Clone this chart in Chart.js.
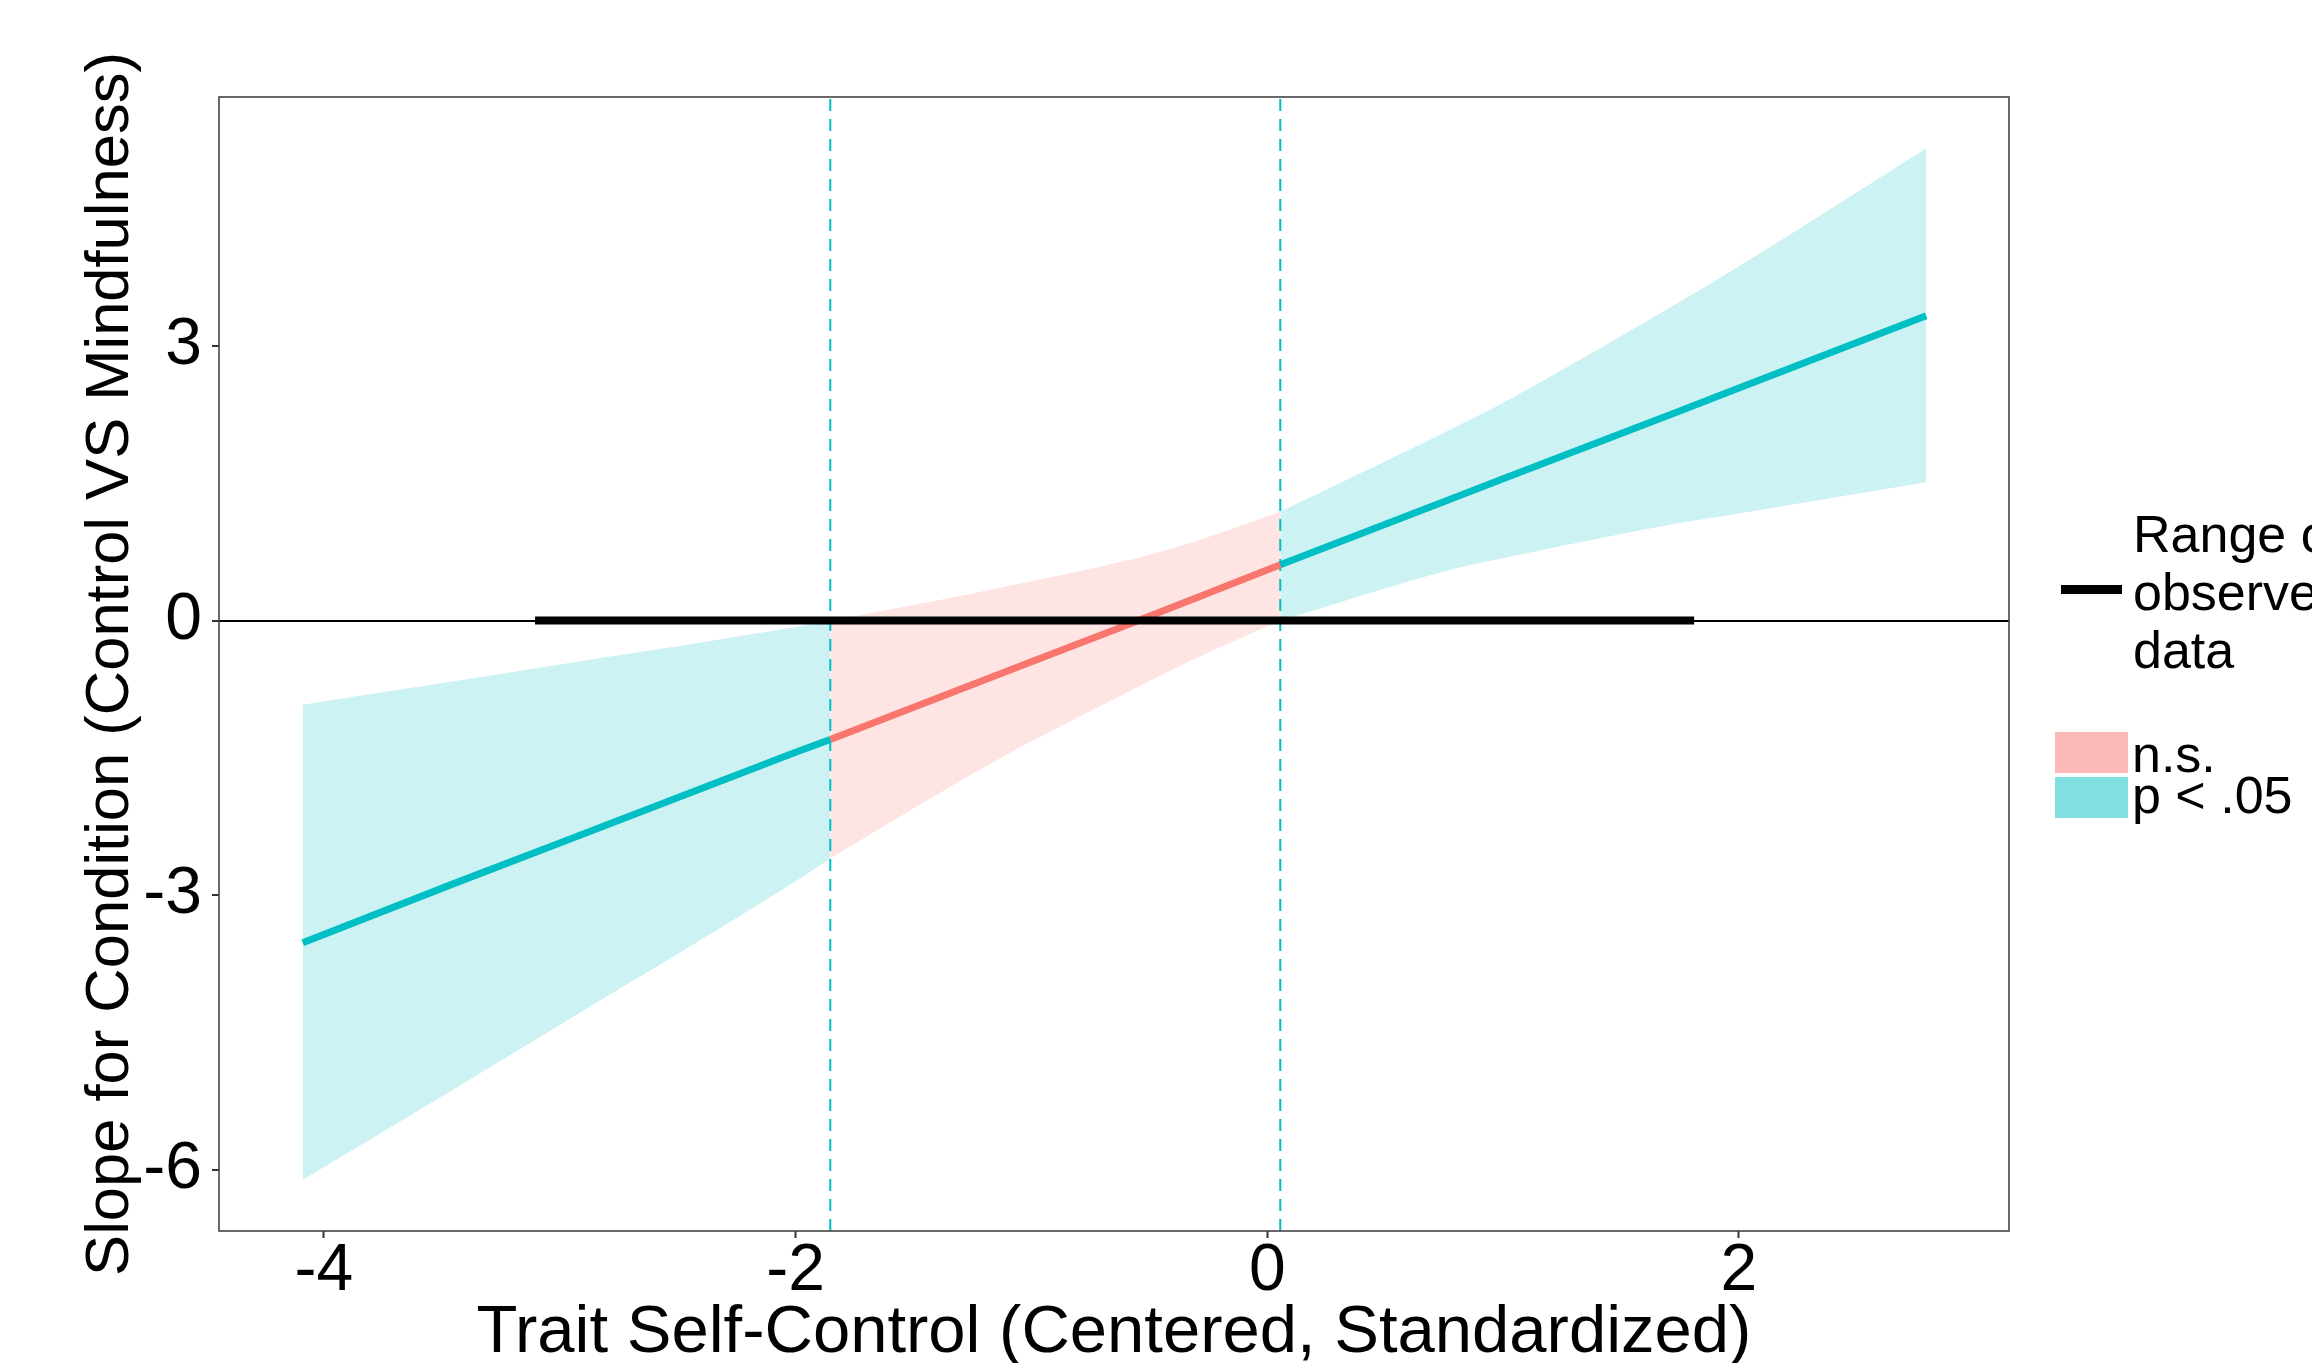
<!DOCTYPE html>
<html><head><meta charset="utf-8">
<script src="https://cdn.jsdelivr.net/npm/chart.js@4/dist/chart.umd.min.js"></script>
<style>
html,body{margin:0;padding:0;background:#fff;overflow:hidden;width:2312px;height:1363px;}
#wrap{position:relative;width:2312px;height:1363px;overflow:hidden;}
canvas{position:absolute;left:0;top:0;}
.lg{position:absolute;font-family:"Liberation Sans",Arial,sans-serif;color:#000;font-size:52px;white-space:nowrap;}
</style></head><body>
<div id="wrap"><canvas id="c" width="2312" height="1363"></canvas>
<div class="lg" style="left:2061px;top:585px;width:61px;height:9px;background:#000"></div>
<div class="lg" style="left:2133px;top:505px;line-height:58px;">Range of<br>observed<br>data</div>
<div class="lg" style="left:2055px;top:732px;width:73px;height:41px;background:#FBBAB6"></div>
<div class="lg" style="left:2055px;top:777px;width:73px;height:41px;background:#80DFE1"></div>
<div class="lg" style="left:2132px;top:728px;line-height:52px;">n.s.</div>
<div class="lg" style="left:2132px;top:769px;line-height:52px;">p &lt; .05</div>
</div>
<script>
const xTickValues = [-4, -2, 0, 2];
const yTickValues = [-6, -3, 0, 3];
const xLimits = [-4.445, 3.145];
const yLimits = [-6.67, 5.72];

// significant region, left of lower Johnson-Neyman bound
const leftX     = [-4.09, -3.455, -3.0, -2.0, -1.853];
const leftUpper = [-0.92, -0.667, -0.48, -0.07, 0.0];
const leftLower = [-6.11, -5.13, -4.42, -2.85, -2.60];
const leftSlope = [-3.52, -2.88, -2.43, -1.44, -1.30];

// non-significant region
const midX     = [-1.853, -1.34, -1.0, -0.636, -0.3, 0.055];
const midUpper = [0.0, 0.25, 0.43, 0.63, 0.87, 1.19];
const midLower = [-2.60, -1.81, -1.32, -0.84, -0.41, 0.0];
const midSlope = [-1.30, -0.79, -0.45, -0.09, 0.25, 0.61];

// significant region, right of upper Johnson-Neyman bound
const rightX     = [0.055, 0.77, 1.0, 1.76, 2.0, 2.794];
const rightUpper = [1.19, 2.08, 2.38, 3.50, 3.87, 5.16];
const rightLower = [0.0, 0.55, 0.68, 1.07, 1.17, 1.51];
const rightSlope = [0.61, 1.32, 1.55, 2.30, 2.54, 3.33];

const observedRange = [-3.105, 1.81];
const jnBounds = [-1.853, 0.055];

const CYAN = '#00BFC4', PINK = '#F8766D';
const CYAN_FILL = 'rgba(0,191,196,0.2)', PINK_FILL = 'rgba(248,118,109,0.2)';
const FONT = '"Liberation Sans", Arial, sans-serif';

const pts = (xs, ys) => xs.map((x, i) => ({x: x, y: ys[i]}));
const base = {pointRadius: 0, pointHoverRadius: 0, tension: 0};

function ribbon(xs, lo, up, color) {
  return [
    Object.assign({}, base, {data: pts(xs, lo), borderWidth: 0, borderColor: 'rgba(0,0,0,0)', fill: false, order: 20, cubicInterpolationMode: 'monotone'}),
    Object.assign({}, base, {data: pts(xs, up), borderWidth: 0, borderColor: 'rgba(0,0,0,0)', backgroundColor: color, fill: '-1', order: 20, cubicInterpolationMode: 'monotone'})
  ];
}
function line(xs, ys, color, width, order, extra) {
  return Object.assign({}, base, {data: pts(xs, ys), borderColor: color, borderWidth: width, fill: false, order: order, borderCapStyle: 'butt'}, extra || {});
}

const datasets = [].concat(
  ribbon(leftX, leftLower, leftUpper, CYAN_FILL),
  ribbon(midX, midLower, midUpper, PINK_FILL),
  ribbon(rightX, rightLower, rightUpper, CYAN_FILL),
  jnBounds.map(b => line([b, b], yLimits, CYAN, 2, 10, {borderDash: [12, 8]})),
  [line(leftX, leftSlope, CYAN, 7, 5),
   line(midX, midSlope, PINK, 7, 5),
   line(rightX, rightSlope, CYAN, 7, 5),
   line(observedRange, [0, 0], '#000', 8, 1)]
);

const frame = {
  id: 'frame',
  afterDatasetsDraw(chart) {
    const a = chart.chartArea, ctx = chart.ctx;
    ctx.save();
    ctx.strokeStyle = '#444';
    ctx.lineWidth = 1.6;
    ctx.strokeRect(a.left, a.top, a.right - a.left, a.bottom - a.top);
    ctx.restore();
  }
};

new Chart(document.getElementById('c'), {
  type: 'line',
  data: {datasets: datasets},
  plugins: [frame],
  options: {
    responsive: false,
    animation: false,
    devicePixelRatio: 1,
    layout: {padding: {left: 0, top: 97, right: 303, bottom: 0}},
    plugins: {legend: {display: false}, tooltip: {enabled: false}},
    scales: {
      x: {
        type: 'linear', min: xLimits[0], max: xLimits[1],
        afterBuildTicks: s => { s.ticks = xTickValues.map(v => ({value: v})); },
        afterFit: s => { s.height = 132; },
        grid: {color: 'rgba(0,0,0,0)', tickColor: '#333', tickLength: 7, tickWidth: 2},
        border: {display: false},
        ticks: {color: '#000', padding: 1, maxRotation: 0, font: {family: FONT, size: 66, lineHeight: 1},
                callback: v => String(v)},
        title: {display: true, text: 'Trait Self-Control (Centered, Standardized)', color: '#000',
                font: {family: FONT, size: 67, lineHeight: 0.88}, padding: {top: 0, bottom: 0}}
      },
      y: {
        type: 'linear', min: yLimits[0], max: yLimits[1],
        afterBuildTicks: s => { s.ticks = yTickValues.map(v => ({value: v})); },
        afterFit: s => { s.width = 219; },
        grid: {color: c => (c.tick && c.tick.value === 0) ? '#000' : 'rgba(0,0,0,0)', lineWidth: 2,
               tickColor: '#333', tickLength: 7, tickWidth: 2},
        border: {display: false},
        ticks: {color: '#000', padding: 10, font: {family: FONT, size: 66}, callback: v => String(v)},
        title: {display: true, text: 'Slope for Condition (Control VS Mindfulness)', color: '#000',
                font: {family: FONT, size: 61.5, lineHeight: 0.88}, padding: {top: 84, bottom: 0}}
      }
    }
  }
});
</script>
</body></html>
